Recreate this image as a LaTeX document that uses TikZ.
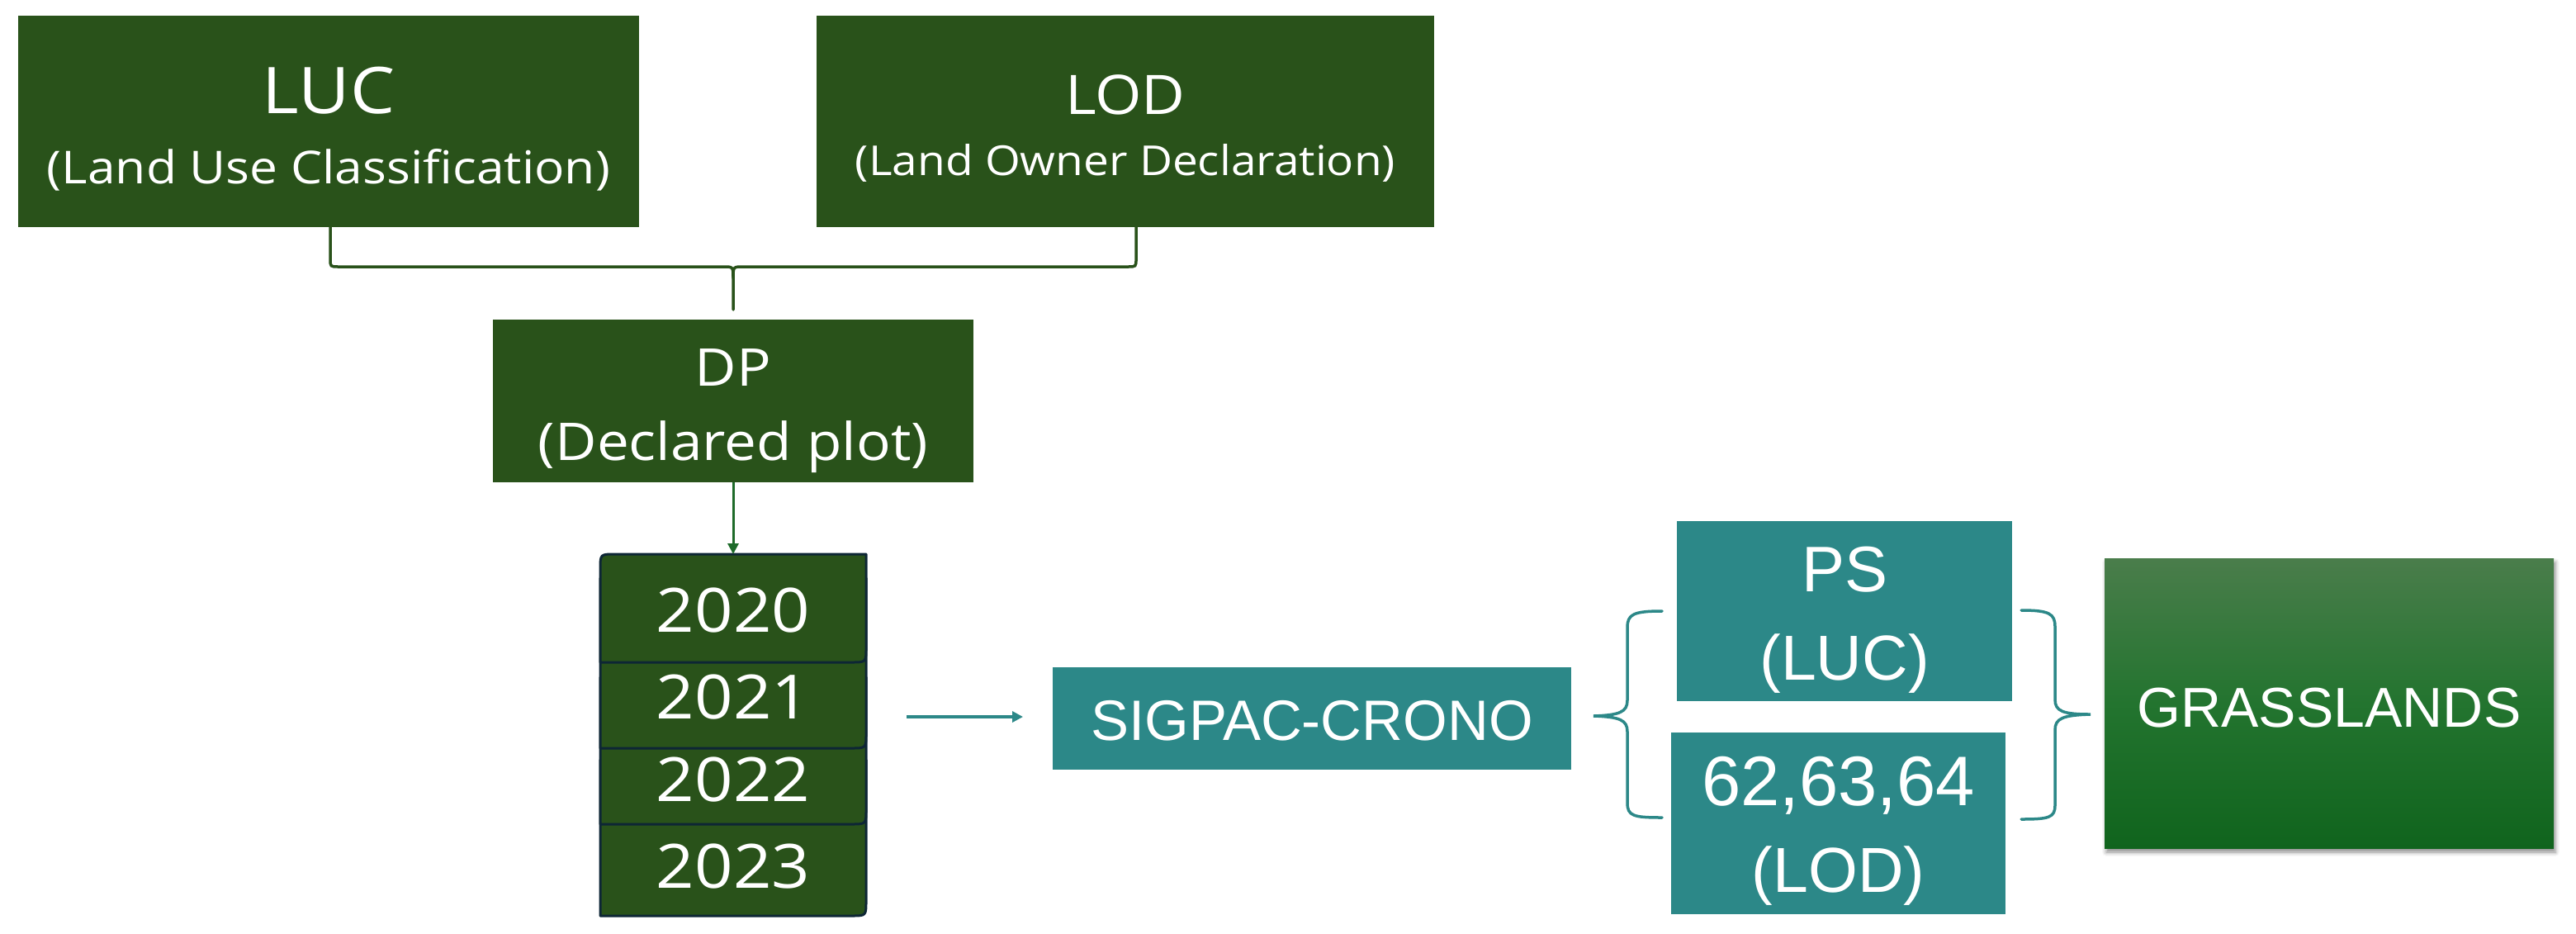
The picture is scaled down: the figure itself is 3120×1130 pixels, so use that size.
\documentclass[tikz,border=0pt]{standalone}
\usepackage{fontspec}
\setmainfont{Liberation Sans}
\newfontfamily\apt[FakeStretch=1.1]{Open Sans}
\usetikzlibrary{arrows.meta,shadows.blur,calc}
\definecolor{dkgreen}{HTML}{29521A}
\definecolor{tealc}{HTML}{2C8888}
\definecolor{arrgreen}{HTML}{1E6B2A}
\definecolor{navy}{HTML}{0D2635}
\definecolor{grtop}{HTML}{4A7D4B}
\definecolor{grmid}{HTML}{23742F}
\definecolor{grbot}{HTML}{10641D}
\newcommand{\fsz}[1]{\fontsize{#1}{#1}\selectfont}
\begin{document}
\begin{tikzpicture}[x=1pt,y=-1pt,
  box/.style={inner sep=0pt, outer sep=0pt, draw=none},
  gbox/.style={box, fill=dkgreen},
  tbox/.style={box, fill=tealc},
  lbl/.style={anchor=base, inner sep=0pt, outer sep=0pt, text=white},
  brk/.style={draw=dkgreen, line width=3.5pt, line cap=round},
  tbrk/.style={draw=tealc, line width=3.5pt, line cap=round},
  yr/.style={fill=dkgreen, draw=navy, line width=3pt, line join=round},
  garr/.style={draw=arrgreen, line width=3pt, -{Triangle[length=13pt,width=13pt]}},
  tarr/.style={draw=tealc, line width=3.5pt, -{Triangle[length=13pt,width=13pt]}}]
\useasboundingbox (0,0) rectangle (3120,1130);

% top boxes
\node[gbox, minimum width=752pt, minimum height=256pt] (luc) at (398,147) {};
\node[gbox, minimum width=748pt, minimum height=256pt] (lod) at (1363,147) {};
\node[lbl, font=\apt\fsz{78}] (luct) at (398,137) {LUC};
\node[lbl, font=\apt\fsz{55}] (lucs) at (398,222) {(Land Use Classification)};
\node[lbl, font=\apt\fsz{66}] (lodt) at (1363,138) {LOD};
\node[lbl, font=\apt\fsz{50}] (lods) at (1363,212) {(Land Owner Declaration)};

% DP box
\node[gbox, minimum width=582pt, minimum height=197pt] (dp) at (888,485.5) {};
\node[lbl, font=\apt\fsz{63}] (dpt) at (888,467) {DP};
\node[lbl, font=\apt\fsz{63}] (dps) at (888,557) {(Declared plot)};

% bracket joining LUC and LOD
\coordinate (tip) at (888,375);
\draw[brk] ([xshift=2pt]luc.south) -- (400,313) .. controls (400,323) .. (410,323)
  -- (876,323) .. controls (888,323) .. (888,337) -- (tip);
\draw[brk] ([xshift=13pt]lod.south) -- (1376,313) .. controls (1376,323) .. (1366,323)
  -- (900,323) .. controls (888,323) .. (888,337);

% stack of years
\node[box, minimum width=322pt, minimum height=438pt] (stack) at (888,890) {};
\draw[yr] (727,920) -- (1049,920) -- (1049,1091) .. controls (1049,1109) .. (1031,1109) -- (727,1109) -- cycle;
\draw[yr] (727,820) -- (1049,820) -- (1049,980) .. controls (1049,998) .. (1031,998) -- (727,998) -- cycle;
\draw[yr] (727,700) -- (1049,700) -- (1049,888) .. controls (1049,906) .. (1031,906) -- (727,906) -- cycle;
\draw[yr] (727,802) -- (727,689) .. controls (727,671) .. (745,671) -- (1049,671) -- (1049,784) .. controls (1049,802) .. (1031,802) -- cycle;
\node[lbl, font=\apt\fsz{74}] (y20) at (888,765) {2020};
\node[lbl, font=\apt\fsz{74}] (y21) at (888,870) {2021};
\node[lbl, font=\apt\fsz{74}] (y22) at (888,970) {2022};
\node[lbl, font=\apt\fsz{74}] (y23) at (888,1075) {2023};

\draw[garr] (dp.south) -- (stack.north);

% SIGPAC
\node[tbox, minimum width=628pt, minimum height=124pt] (sig) at (1589,870) {};
\node[lbl, font=\fsz{69}] (sigt) at (1589,896) {SIGPAC-CRONO};
\draw[tarr] ($(stack.east |- sig.west)+(49,-2)$) -- ($(sig.west)+(-36,-2)$);

% PS and 62 boxes
\node[tbox, minimum width=406pt, minimum height=218pt] (ps) at (2234,740) {};
\node[lbl, font=\fsz{78}] (pst) at (2234,716) {PS};
\node[lbl, font=\fsz{77}] (pss) at (2234,823) {(LUC)};
\node[tbox, minimum width=405pt, minimum height=220pt] (cod) at (2226.5,997) {};
\node[lbl, font=\fsz{85}] (codt) at (2226.5,975) {62,63,64};
\node[lbl, font=\fsz{77}] (cods) at (2226.5,1080) {(LOD)};

% braces
\draw[tbrk] (2013,740) .. controls (1978,740) and (1971,744) .. (1971,760) -- (1971,848)
  .. controls (1971,862) and (1962,866) .. (1930,867)
  .. controls (1962,868) and (1971,872) .. (1971,886) -- (1971,972)
  .. controls (1971,988) and (1978,990) .. (2013,990);
\draw[tbrk] (2448,739) .. controls (2482,739) and (2489,743) .. (2489,759) -- (2489,847)
  .. controls (2489,861) and (2498,865) .. (2532,865)
  .. controls (2498,866) and (2489,870) .. (2489,884) -- (2489,975)
  .. controls (2489,990) and (2482,992) .. (2448,992);

% GRASSLANDS
\node[box, top color=grtop, bottom color=grbot, middle color=grmid,
  minimum width=544pt, minimum height=351pt,
  blur shadow={shadow xshift=2pt, shadow yshift=-5pt, shadow blur radius=5pt, shadow opacity=45}] (grass) at (2821,851.5) {};
\node[lbl, font=\fsz{68}] (grasst) at (2821,880) {GRASSLANDS};
\end{tikzpicture}
\end{document}
